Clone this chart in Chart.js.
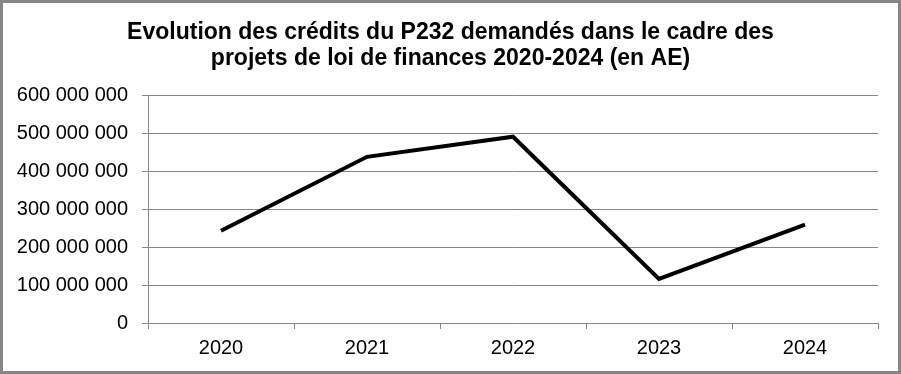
<!DOCTYPE html>
<html>
<head>
<meta charset="utf-8">
<script src="https://cdn.jsdelivr.net/npm/chart.js@4"></script>
<style>
  html, body { margin: 0; padding: 0; background: #ffffff; }
  #wrap { position: relative; width: 901px; height: 374px; box-sizing: border-box; border: 3px solid #868686; background: #fff; }
  #c { display: block; }
</style>
</head>
<body>
<div id="wrap"><canvas id="c" width="895" height="368"></canvas></div>
<script>
const titleLines = ["Evolution des crédits du P232 demandés dans le cadre des", "projets de loi de finances 2020-2024 (en AE)"];
const categories = ["2020", "2021", "2022", "2023", "2024"];
const creditsAE = [243000000, 438000000, 491000000, 116000000, 259000000];
const yTicks = [0, 100000000, 200000000, 300000000, 400000000, 500000000, 600000000];

function fmt(v) {
  return String(Math.round(v)).replace(/\B(?=(\d{3})+(?!\d))/g, " ");
}

const FONT = "'Liberation Sans', Arial, sans-serif";

new Chart(document.getElementById("c"), {
  type: "line",
  data: {
    labels: categories,
    datasets: [{
      label: "AE",
      data: creditsAE,
      borderColor: "#000000",
      borderWidth: 4,
      pointRadius: 0,
      pointHoverRadius: 0,
      tension: 0,
      fill: false
    }]
  },
  options: {
    responsive: false,
    animation: false,
    devicePixelRatio: 1,
    layout: { padding: 0 },
    plugins: {
      legend: { display: false },
      tooltip: { enabled: false },
      title: {
        display: true,
        text: titleLines,
        color: "#000000",
        font: { family: FONT, size: 23, weight: "bold", lineHeight: 1.16 },
        padding: { top: 16, bottom: 23 }
      }
    },
    scales: {
      x: {
        offset: true,
        grid: { display: true, offset: true, drawOnChartArea: false, drawTicks: true, tickLength: 6, color: "#868686", lineWidth: 1 },
        border: { display: true, color: "#868686", width: 1 },
        ticks: { color: "#000000", font: { family: FONT, size: 20 }, padding: 7, maxRotation: 0 },
        afterFit: function (scale) { scale.height = 48; }
      },
      y: {
        min: 0,
        max: 600000000,
        afterBuildTicks: function (scale) { scale.ticks = yTicks.map(v => ({ value: v })); },
        grid: { color: "#868686", lineWidth: 1, drawTicks: true, tickLength: 6 },
        border: { display: true, color: "#868686", width: 1 },
        ticks: {
          color: "#000000",
          font: { family: FONT, size: 20 },
          padding: 14,
          callback: function (v) { return fmt(v); }
        },
        afterFit: function (scale) { scale.width = 145; }
      },
      spacer: {
        type: "linear",
        position: "right",
        display: true,
        grid: { display: false, drawTicks: false },
        border: { display: false },
        ticks: { display: false },
        afterFit: function (scale) { scale.width = 20; }
      }
    }
  }
});
</script>
</body>
</html>
